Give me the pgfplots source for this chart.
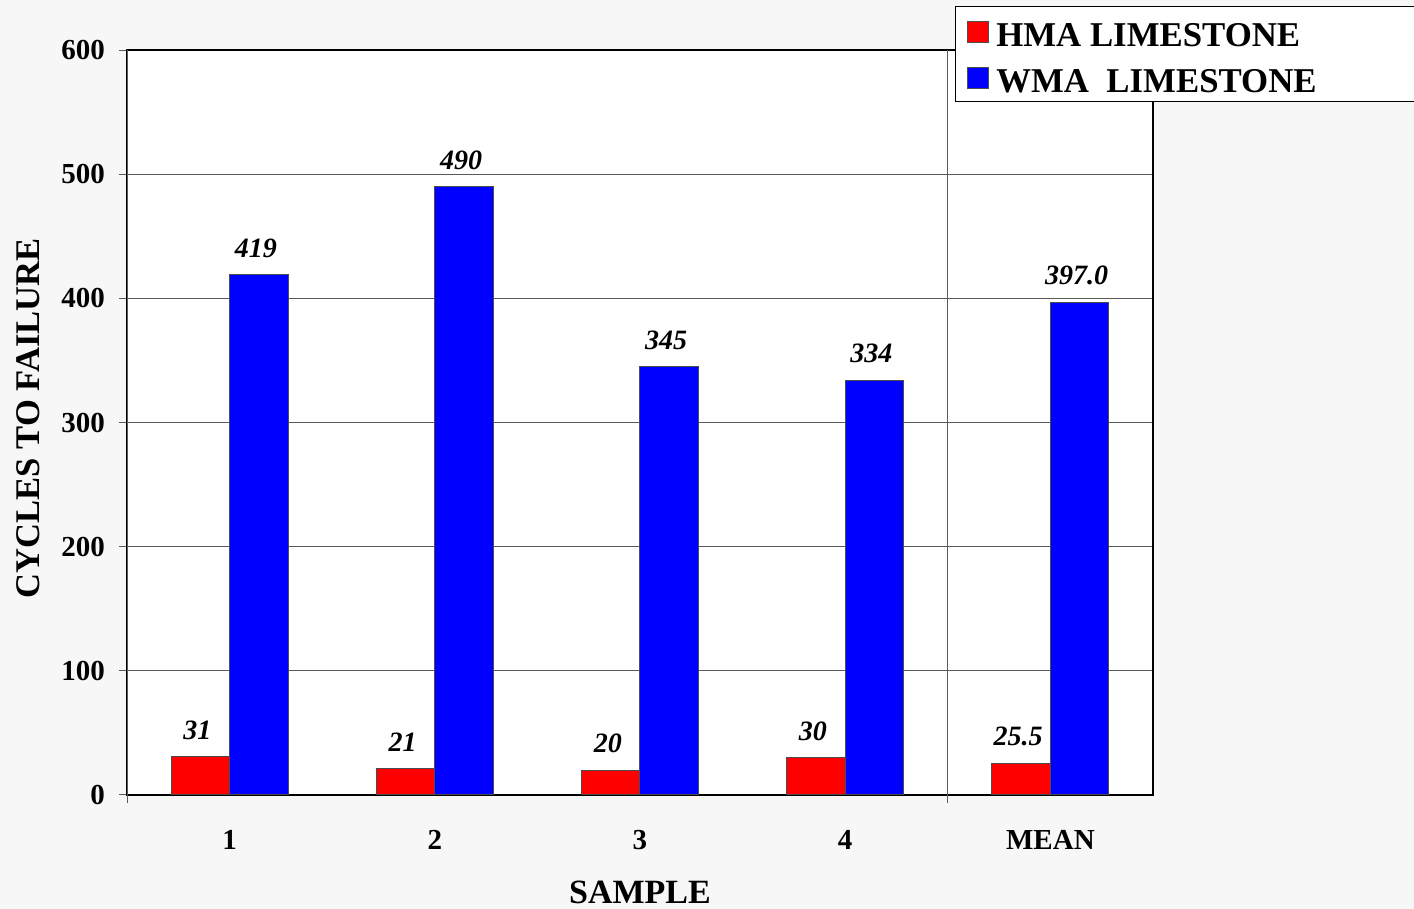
\documentclass[border=0pt]{standalone}
\usepackage{pgfplots}
\pgfplotsset{compat=1.18}
\usepackage{fontspec}
\setmainfont{Liberation Serif}
\definecolor{hmared}{HTML}{FF0000}
\definecolor{wmablue}{HTML}{0000FF}
\definecolor{pagebg}{HTML}{F7F7F7}
\definecolor{gridgray}{HTML}{5A5A5A}
\begin{document}
\begin{tikzpicture}
\useasboundingbox[fill=pagebg] (0,0) rectangle (707pt,454.5pt);
\begin{axis}[
  at={(63.5pt,57pt)}, anchor=south west,
  scale only axis, width=513pt, height=372.5pt,
  axis background/.style={fill=white},
  ybar, bar width=0.285,
  xmin=-0.5, xmax=4.5, ymin=0, ymax=600,
  xtick={0,1,2,3,4}, xticklabels={1,2,3,4,MEAN},
  ytick={0,100,...,600},
  ymajorgrids,
  major grid style={gridgray, line width=0.5pt},
  axis line style={black, line width=0.7pt},
  tick pos=left, tick align=outside, major tick length=4pt,
  every tick/.style={gridgray, line width=0.5pt},
  xtick style={draw=none},
  extra x ticks={-0.5,3.5}, extra x tick labels={,},
  extra x tick style={grid=major, xtick style={draw=gridgray}},
  /pgf/number format/assume math mode=true,
  yticklabel style={font=\fontsize{14.5}{17}\selectfont\bfseries, xshift=-3.5pt},
  xticklabel style={font=\fontsize{14.5}{17}\selectfont\bfseries, anchor=center, yshift=-18.5pt},
  xlabel={SAMPLE}, ylabel={CYCLES TO FAILURE},
  xlabel style={font=\fontsize{17}{20}\selectfont\bfseries, at={(axis description cs:0.5,-0.131)}, anchor=center},
  ylabel style={font=\fontsize{17.3}{20}\selectfont\bfseries, at={(axis description cs:-0.0965,0.506)}, anchor=center},
  point meta=explicit symbolic,
  nodes near coords,
  nodes near coords style={font=\fontsize{14}{16}\selectfont\bfseries\itshape, black, yshift=5pt, xshift=-1.5pt},
  legend style={at={(axis description cs:0.807,1.059)}, anchor=north west,
    draw=black, line width=0.5pt, fill=white,
    font=\fontsize{17.4}{20}\selectfont\bfseries,
    inner xsep=6pt, inner ysep=1.5pt, row sep=1.5pt,
    nodes={inner ysep=2pt, text height=16.5pt, text depth=1pt}},
  legend cell align=left,
  legend image code/.code={\draw[#1, draw=black!70, line width=0.4pt] (0pt,-5.75pt) rectangle (10.5pt,4.75pt);},
]
\addplot[fill=hmared, draw=black!70, line width=0.5pt, bar shift=-0.1425]
  coordinates {(0,31) [31] (1,21) [21] (2,20) [20] (3,30) [30] (4,25.5) [25.5]};
\addplot[fill=wmablue, draw=black!70, line width=0.5pt, bar shift=0.1425]
  coordinates {(0,419) [419] (1,490) [490] (2,345) [345] (3,334) [334] (4,397.0) [397.0]};
\addlegendentry{\makebox[215pt][l]{\hspace{1.5pt}HMA LIMESTONE}}
\addlegendentry{\makebox[215pt][l]{\hspace{1.5pt}WMA\ \ LIMESTONE}}
\end{axis}
\end{tikzpicture}
\end{document}
